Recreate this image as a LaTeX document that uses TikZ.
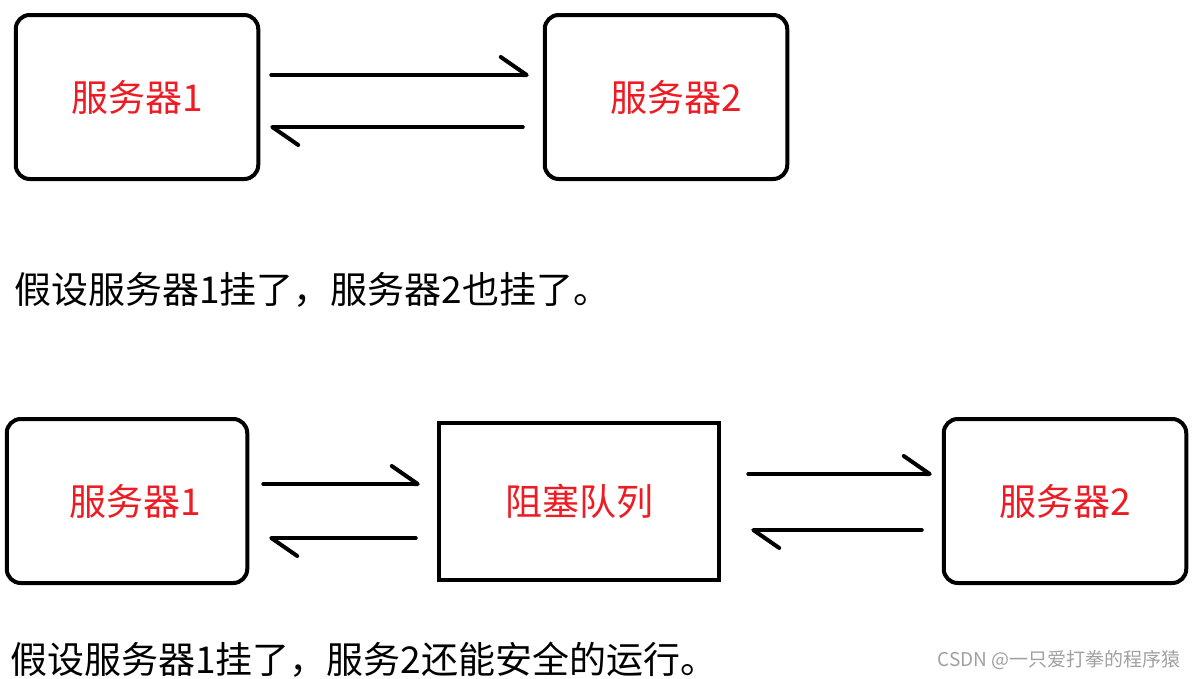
\documentclass[tikz,border=0pt]{standalone}
\usepackage{fontspec}
\setmainfont{Noto Sans CJK SC}
\usepackage{xcolor}
\definecolor{srvred}{RGB}{237,28,36}
\definecolor{wmgray}{RGB}{160,160,160}
\usetikzlibrary{arrows.meta,positioning}
\tikzset{
  sbox/.style={draw, line width=4pt, rounded corners=14pt, inner sep=0pt,
               minimum width=#1, minimum height=164pt, text=srvred,
               font=\fontsize{37}{40}\selectfont},
  qbox/.style={draw, line width=4pt, inner sep=0pt,
               minimum width=280.5pt, minimum height=157pt, text=srvred,
               font=\fontsize{37}{40}\selectfont},
  harp/.style={line width=4pt, line cap=round,
               -{Straight Barb[left, length=26pt, width=36pt, round]}},
  note/.style={anchor=west, inner sep=0pt, font=\fontsize{37}{42}\selectfont},
}

\begin{document}
\begin{tikzpicture}[x=1pt, y=-1pt]
\useasboundingbox (0,0) rectangle (1197,678);
% Two servers talking directly
\node[sbox=242.5pt] (srvA) at (137,97) {服务器1};
\node[sbox=242.5pt] (srvB) at (666,97) {\hspace*{20pt}服务器2};
\draw[harp, shorten <=11pt, shorten >=14pt] ([yshift=22pt]srvA.east) -- ([yshift=22pt]srvB.west);
\draw[harp, shorten <=20pt, shorten >=10pt] ([yshift=-30pt]srvB.west) -- ([yshift=-30pt]srvA.east);
\node[note] (txtA) at (14,290) {假设服务器1挂了，服务器2也挂了。};
% Servers talking through a blocking queue
\node[sbox=240.5pt] (qsrvA) at (127,501) {\hspace*{16pt}服务器1};
\node[qbox] (queue) at (579,501) {阻塞队列};
\node[sbox=242.5pt] (qsrvB) at (1065,501) {服务器2};
\draw[harp, shorten <=14pt, shorten >=17pt] ([yshift=17pt]qsrvA.east) -- ([yshift=17pt]queue.west);
\draw[harp, shorten <=21pt, shorten >=20pt] ([yshift=-37pt]queue.west) -- ([yshift=-37pt]qsrvA.east);
\draw[harp, shorten <=27pt, shorten >=10pt] ([yshift=27pt]queue.east) -- ([yshift=27pt]qsrvB.west);
\draw[harp, shorten <=20pt, shorten >=30pt] ([yshift=-29pt]qsrvB.west) -- ([yshift=-29pt]queue.east);
\node[note] (txtB) at (10,660) {假设服务器1挂了，服务2还能安全的运行。};
% Watermark
\node[anchor=east, inner sep=0pt, text=wmgray, font=\fontsize{19}{21}\selectfont] (mark) at (1181,660) {CSDN @一只爱打拳的程序猿};
\end{tikzpicture}
\end{document}
